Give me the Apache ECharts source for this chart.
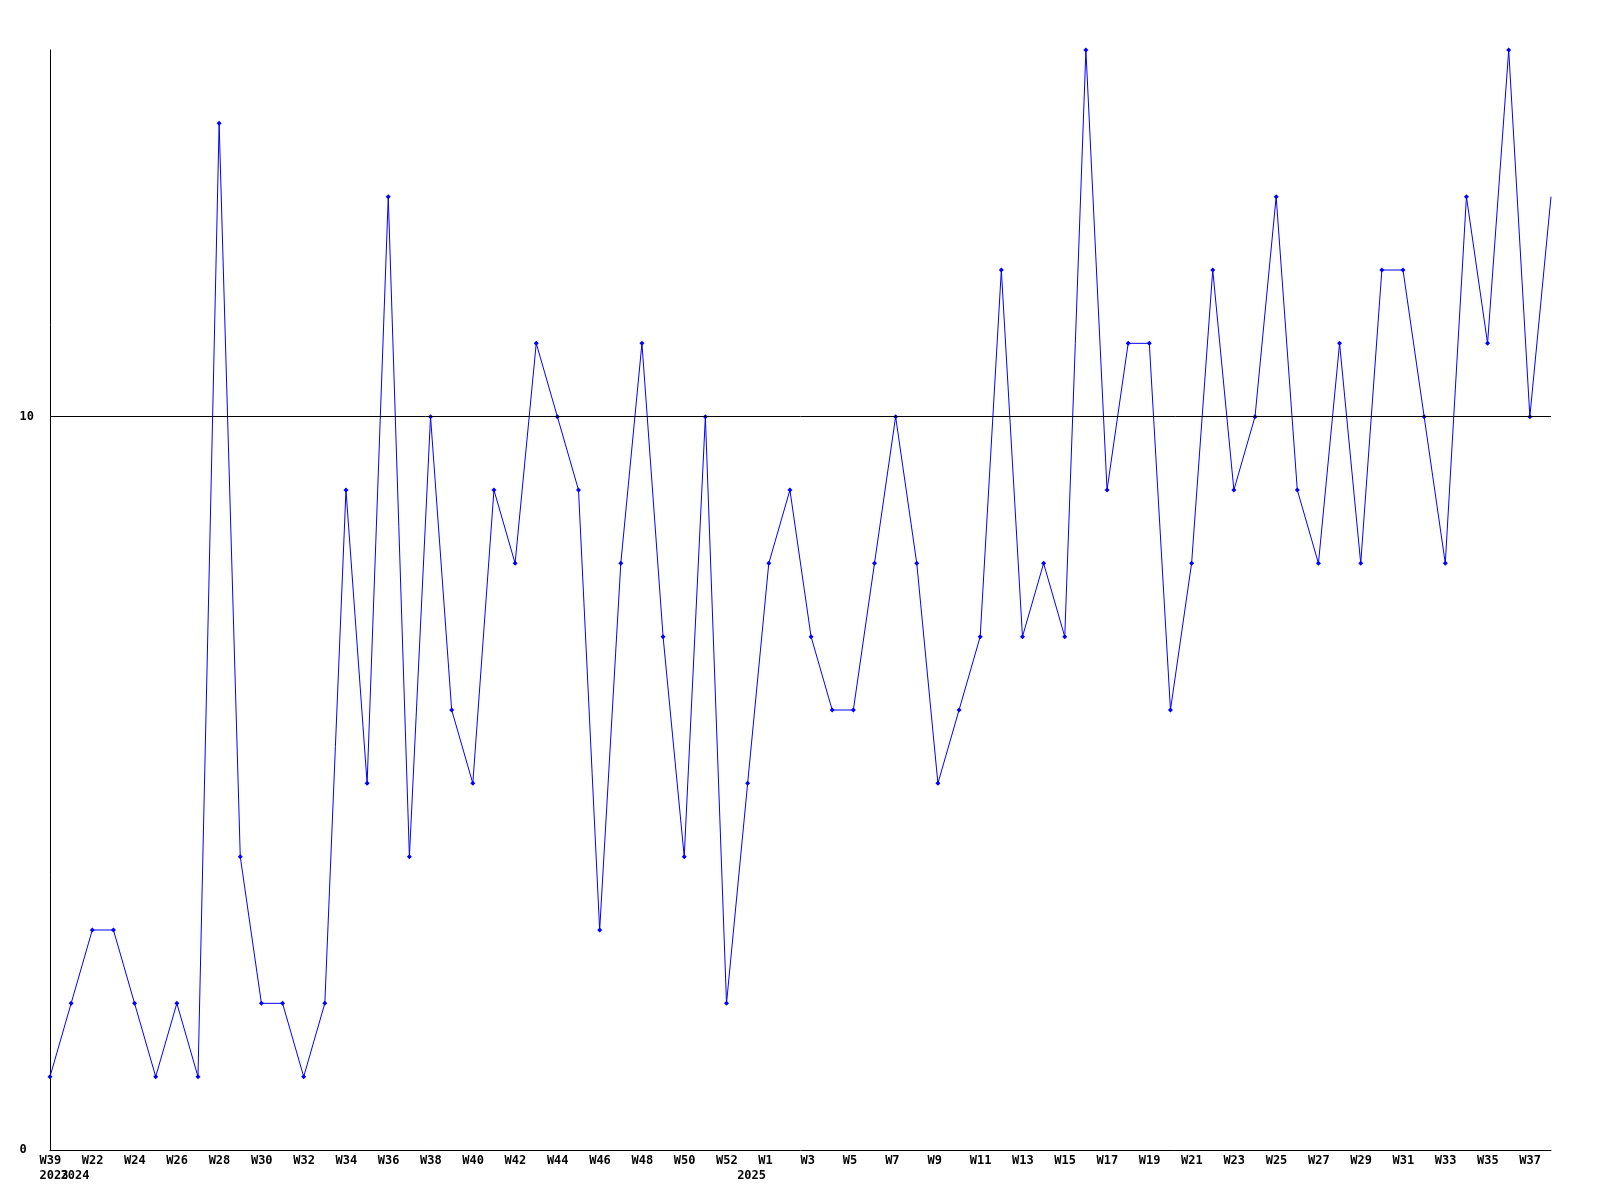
<!DOCTYPE html>
<html>
<head>
<meta charset="utf-8">
<script src="https://cdn.jsdelivr.net/npm/echarts@6/dist/echarts.min.js"></script>
<style>
html,body{margin:0;padding:0;background:#fff;}
#chart{width:1600px;height:1200px;}
</style>
</head>
<body>
<div id="chart"></div>
<script>
const weeks = ['W39','W21','W22','W23','W24','W25','W26','W27','W28','W29','W30','W31','W32','W33','W34','W35','W36','W37','W38','W39','W40','W41','W42','W43','W44','W45','W46','W47','W48','W49','W50','W51','W52',
  'W0','W1','W2','W3','W4','W5','W6','W7','W8','W9','W10','W11','W12','W13','W14','W15','W16','W17','W18','W19','W20','W21','W22','W23','W24','W25','W26','W27','W28','W29','W30','W31','W32','W33','W34','W35','W36','W37','W38'];
const years = ['2023','2024','2024','2024','2024','2024','2024','2024','2024','2024','2024','2024','2024','2024','2024','2024','2024','2024','2024','2024','2024','2024','2024','2024','2024','2024','2024','2024','2024','2024','2024','2024','2024',
  '2025','2025','2025','2025','2025','2025','2025','2025','2025','2025','2025','2025','2025','2025','2025','2025','2025','2025','2025','2025','2025','2025','2025','2025','2025','2025','2025','2025','2025','2025','2025','2025','2025','2025','2025','2025','2025','2025','2025'];
const values = [1,2,3,3,2,1,2,1,14,4,2,2,1,2,9,5,13,4,10,6,5,9,8,11,10,9,3,8,11,7,4,10,2,
  5,8,9,7,6,6,8,10,8,5,6,7,12,7,8,7,15,9,11,11,6,8,12,9,10,13,9,8,11,8,12,12,10,8,13,11,15,10,13];
const yTickLabels = [0, 10];
const refLine = 10;

const font = {fontFamily: 'DejaVu Sans Mono', fontWeight: 'bold', fontSize: 12, color: '#000'};
const chart = echarts.init(document.getElementById('chart'), null, {renderer: 'canvas'});
const seriesData = values.map((v, i) => i === values.length - 1 ? {value: v, symbol: 'none'} : v);
const yearStart = (i) => i === 0 || years[i] !== years[i - 1];

function yearAxis(grid, filter, showMin) {
  return {gridIndex: grid, type: 'category', data: years, boundaryGap: false, position: 'bottom', offset: 15,
    axisLine: {show: false}, axisTick: {show: false}, splitLine: {show: false},
    axisLabel: Object.assign({interval: filter, align: 'left', margin: 5, showMinLabel: showMin,
      hideOverlap: false}, font)};
}
const labelGrid = {left: 39.5, right: 59.5, top: 50, bottom: 50, containLabel: false, outerBoundsMode: 'none'};

chart.setOption({
  animation: false,
  backgroundColor: '#fff',
  grid: [
    {left: 50, right: 49, top: 50, bottom: 50, containLabel: false, outerBoundsMode: 'none'},
    labelGrid,
    Object.assign({}, labelGrid)
  ],
  xAxis: [
    {gridIndex: 0, type: 'category', data: weeks, boundaryGap: false,
     axisLine: {show: true, lineStyle: {color: '#000', width: 1}}, axisTick: {show: false},
     axisLabel: {show: false}, splitLine: {show: false}},
    {gridIndex: 1, type: 'category', data: weeks, boundaryGap: false, position: 'bottom',
     axisLine: {show: false}, axisTick: {show: false}, splitLine: {show: false},
     axisLabel: Object.assign({interval: 1, align: 'left', margin: 5, showMinLabel: true, hideOverlap: false}, font)},
    yearAxis(1, (i) => i > 0 && yearStart(i), null),
    yearAxis(2, (i) => i === 0, true)
  ],
  yAxis: [
    {gridIndex: 0, type: 'value', min: 0, max: 15, interval: 10,
     axisLine: {show: true, lineStyle: {color: '#000', width: 1}}, axisTick: {show: false},
     splitLine: {show: false},
     axisLabel: Object.assign({align: 'left', margin: 30.5, showMaxLabel: false,
       formatter: (v) => yTickLabels.includes(v) ? String(v) : ''}, font)},
    {gridIndex: 1, type: 'value', min: 0, max: 15, show: false},
    {gridIndex: 2, type: 'value', min: 0, max: 15, show: false}
  ],
  series: [{
    type: 'line', xAxisIndex: 0, yAxisIndex: 0, data: seriesData,
    symbol: 'diamond', symbolSize: 5, showSymbol: true,
    itemStyle: {color: '#0000ff'}, lineStyle: {color: '#0000ff', width: 1},
    markLine: {silent: true, symbol: 'none', label: {show: false},
      lineStyle: {color: '#000', width: 1, type: 'solid'},
      data: [{yAxis: refLine}]}
  }]
});
</script>
</body>
</html>
